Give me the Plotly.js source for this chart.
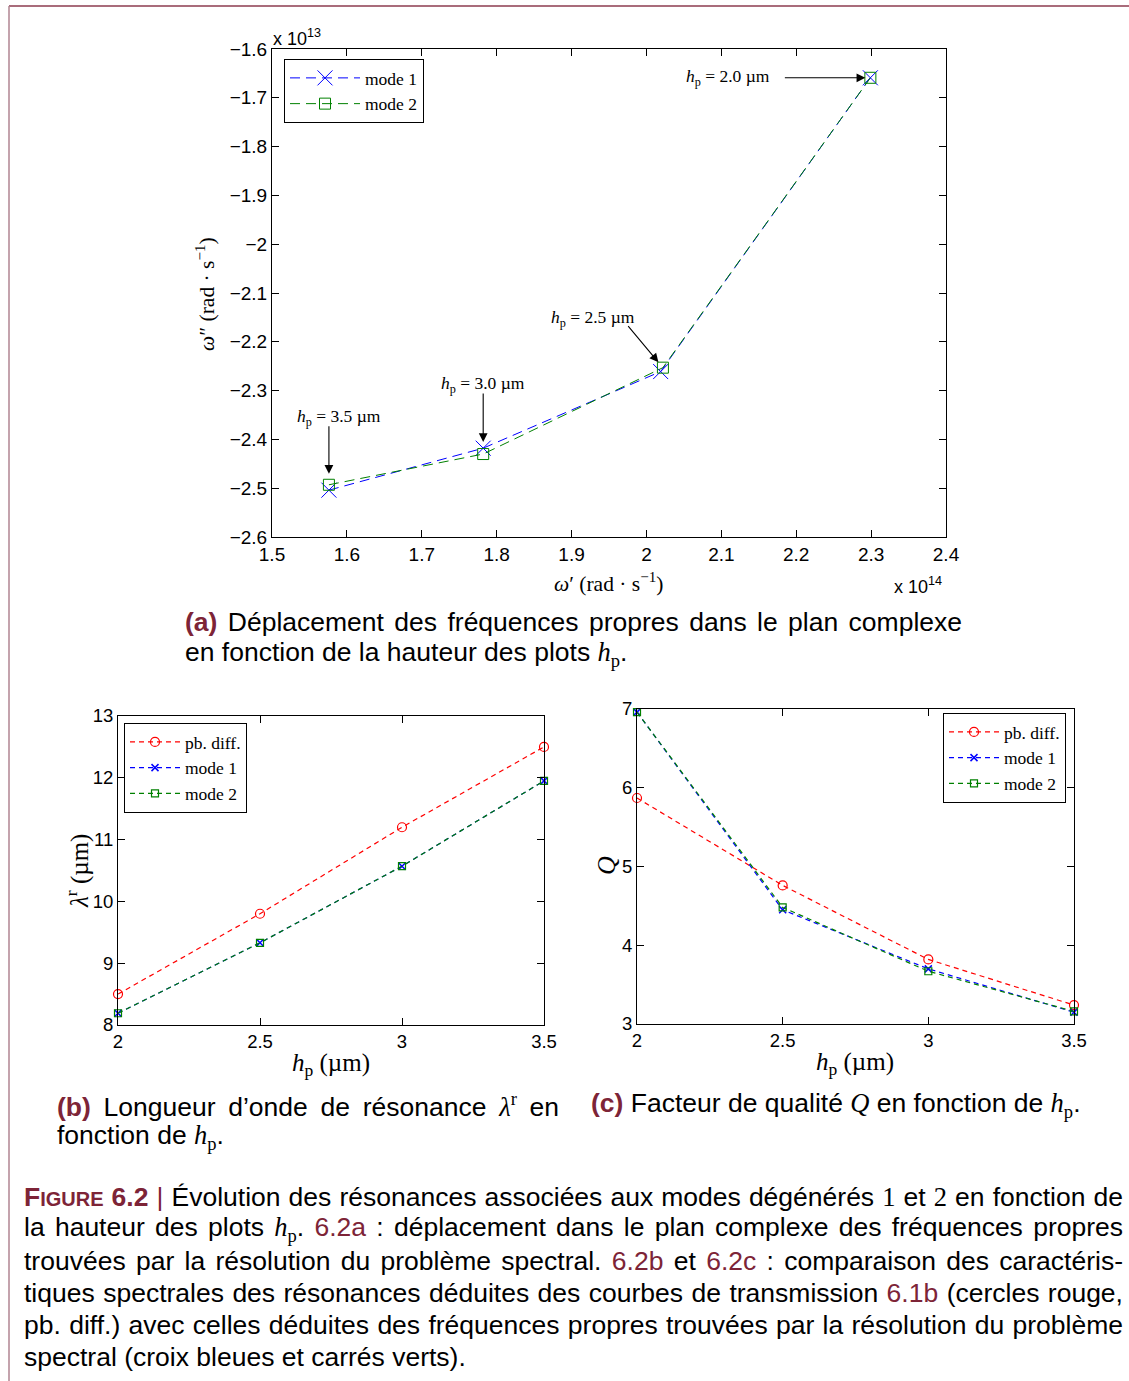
<!DOCTYPE html>
<html><head><meta charset="utf-8">
<script src="https://cdn.plot.ly/plotly-3.0.1.min.js"></script>
<style>html,body{margin:0;padding:0;background:#fff}#chart{width:1129px;height:1381px}</style>
</head><body><div id="chart"></div>
<script>
const W = 1129, H = 1381;
const SANS = 'Liberation Sans, Arial, sans-serif';
const SERIF = 'Liberation Serif, Times New Roman, serif';
const MAROON = '#7d2437';

// ---------- (a) complex eigenfrequencies ----------
const hpLabelsA = ['3.5', '3.0', '2.5', '2.0'];          // h_p (µm) of each point
const omegaReMode1 = [1.576, 1.782, 2.019, 2.299];        // ω'  (×1e14 rad/s)
const omegaImMode1 = [-2.504, -2.418, -2.261, -1.659];    // ω'' (×1e13 rad/s)
const omegaReMode2 = [1.576, 1.782, 2.022, 2.299];
const omegaImMode2 = [-2.493, -2.430, -2.253, -1.659];
const xTickValsA = [1.5, 1.6, 1.7, 1.8, 1.9, 2.0, 2.1, 2.2, 2.3, 2.4];
const xTickTextA = ['1.5', '1.6', '1.7', '1.8', '1.9', '2', '2.1', '2.2', '2.3', '2.4'];
const yTickValsA = [-1.6, -1.7, -1.8, -1.9, -2.0, -2.1, -2.2, -2.3, -2.4, -2.5, -2.6];
const yTickTextA = ['\u22121.6', '\u22121.7', '\u22121.8', '\u22121.9', '\u22122', '\u22122.1', '\u22122.2', '\u22122.3', '\u22122.4', '\u22122.5', '\u22122.6'];

// ---------- (b) resonance wavelength & (c) quality factor ----------
const hp = [2, 2.5, 3, 3.5];                              // h_p (µm)
const lambdaPbDiff = [8.50, 9.80, 11.20, 12.50];          // λr (µm)
const lambdaMode1 = [8.19, 9.33, 10.57, 11.95];
const lambdaMode2 = [8.19, 9.33, 10.57, 11.95];
const qPbDiff = [5.87, 4.76, 3.82, 3.24];
const qMode1 = [6.96, 4.45, 3.70, 3.15];
const qMode2 = [6.96, 4.48, 3.67, 3.16];
const hpTickVals = [2, 2.5, 3, 3.5];
const hpTickText = ['2', '2.5', '3', '3.5'];
const lambdaTickVals = [8, 9, 10, 11, 12, 13];
const lambdaTickText = ['8', '9', '10', '11', '12', '13'];
const qTickVals = [3, 4, 5, 6, 7];
const qTickText = ['3', '4', '5', '6', '7'];

const seriesNames = ['pb. diff.', 'mode 1', 'mode 2'];

const px = x => x / W;
const py = y => 1 - y / H;

const BLUE = '#0000ff', GREEN = '#008000', RED = '#ff0000';

const data = [
  {x: omegaReMode1, y: omegaImMode1, name: seriesNames[1], type: 'scatter', mode: 'lines+markers',
   xaxis: 'x', yaxis: 'y', legend: 'legend', cliponaxis: false,
   line: {color: BLUE, width: 1, dash: '10px,6px'},
   marker: {symbol: 'x-thin-open', size: 15, color: BLUE, line: {color: BLUE, width: 1}}},
  {x: omegaReMode2, y: omegaImMode2, name: seriesNames[2], type: 'scatter', mode: 'lines+markers',
   xaxis: 'x', yaxis: 'y', legend: 'legend', cliponaxis: false,
   line: {color: GREEN, width: 1, dash: '10px,6px'},
   marker: {symbol: 'square-open', size: 11, color: GREEN, line: {color: GREEN, width: 1}}},

  {x: hp, y: lambdaPbDiff, name: seriesNames[0], type: 'scatter', mode: 'lines+markers',
   xaxis: 'x2', yaxis: 'y2', legend: 'legend2', cliponaxis: false,
   line: {color: RED, width: 1.2, dash: '5px,4px'},
   marker: {symbol: 'circle-open', size: 9, color: RED, line: {color: RED, width: 1.2}}},
  {x: hp, y: lambdaMode1, name: seriesNames[1], type: 'scatter', mode: 'lines+markers',
   xaxis: 'x2', yaxis: 'y2', legend: 'legend2', cliponaxis: false,
   line: {color: BLUE, width: 1.2, dash: '5px,4px'},
   marker: {symbol: 'x-thin-open', size: 7, color: BLUE, line: {color: BLUE, width: 1.5}}},
  {x: hp, y: lambdaMode2, name: seriesNames[2], type: 'scatter', mode: 'lines+markers',
   xaxis: 'x2', yaxis: 'y2', legend: 'legend2', cliponaxis: false,
   line: {color: GREEN, width: 1.2, dash: '5px,4px'},
   marker: {symbol: 'square-open', size: 7, color: GREEN, line: {color: GREEN, width: 1.2}}},

  {x: hp, y: qPbDiff, name: seriesNames[0], type: 'scatter', mode: 'lines+markers',
   xaxis: 'x3', yaxis: 'y3', legend: 'legend3', cliponaxis: false,
   line: {color: RED, width: 1.2, dash: '5px,4px'},
   marker: {symbol: 'circle-open', size: 9, color: RED, line: {color: RED, width: 1.2}}},
  {x: hp, y: qMode1, name: seriesNames[1], type: 'scatter', mode: 'lines+markers',
   xaxis: 'x3', yaxis: 'y3', legend: 'legend3', cliponaxis: false,
   line: {color: BLUE, width: 1.2, dash: '5px,4px'},
   marker: {symbol: 'x-thin-open', size: 7, color: BLUE, line: {color: BLUE, width: 1.5}}},
  {x: hp, y: qMode2, name: seriesNames[2], type: 'scatter', mode: 'lines+markers',
   xaxis: 'x3', yaxis: 'y3', legend: 'legend3', cliponaxis: false,
   line: {color: GREEN, width: 1.2, dash: '5px,4px'},
   marker: {symbol: 'square-open', size: 7, color: GREEN, line: {color: GREEN, width: 1.2}}}
];

function axis(domain, range, vals, text, fs, anchor) {
  return {
    domain: domain, range: range, autorange: false, anchor: anchor,
    tickmode: 'array', tickvals: vals, ticktext: text,
    showline: true, linecolor: '#000', linewidth: 1, mirror: 'ticks', ticks: 'inside', ticklen: 7,
    tickwidth: 1, tickcolor: '#000', showgrid: false, zeroline: false,
    tickfont: {family: SANS, size: fs, color: '#000'}
  };
}

const annotations = [];
function note(x, y, text, opts) {
  annotations.push(Object.assign({xref: 'paper', yref: 'paper', x: px(x), y: py(y), text: text,
    xanchor: 'center', yanchor: 'middle',
    showarrow: false, font: {family: SANS, size: 18, color: '#000'}}, opts || {}));
  return annotations.length - 1;
}
const hpSym = '<span style="font-family:Liberation Serif"><i>h</i><sub>p</sub></span>';

// (a) axis decorations
note(271, 38, 'x 10<sup>13</sup>', {xanchor: 'left'});
note(892, 585, 'x 10<sup>14</sup>', {xanchor: 'left'});
note(608, 582, '<i>ω</i>′ (rad · s<sup>−1</sup>)', {font: {family: SERIF, size: 21.5, color: '#000'}});
note(205, 294, '<i>ω</i>″ (rad · s<sup>−1</sup>)', {textangle: -90, font: {family: SERIF, size: 21.5, color: '#000'}});

// (a) h_p labels
const hpLabelPos = [[339, 417], [483, 384], [593, 318], [728, 77]];
hpLabelsA.forEach((lab, i) => {
  note(hpLabelPos[i][0], hpLabelPos[i][1], '<i>h</i><sub>p</sub> = ' + lab + ' µm',
       {font: {family: SERIF, size: 17.5, color: '#000'}});
});
// (a) arrows pointing to the mode-2 points
const arrowSpec = [{ax: 0, ay: -60, s: 11}, {ax: 0, ay: -62, s: 12}, {ax: -36, ay: -43, s: 7}, {ax: -87, ay: 0, s: 5}];
arrowSpec.forEach((a, i) => {
  annotations.push({xref: 'x', yref: 'y', x: omegaReMode2[i], y: omegaImMode2[i], text: '',
    showarrow: true, ax: a.ax, ay: a.ay, standoff: a.s, arrowhead: 2, arrowsize: 1.6,
    arrowwidth: 1.1, arrowcolor: '#000'});
});

// (b), (c) axis titles
note(331, 1064, '<i>h</i><sub>p</sub> (µm)', {font: {family: SERIF, size: 25, color: '#000'}});
note(77, 871, '<i>λ</i><sup>r</sup> (µm)', {textangle: -90, font: {family: SERIF, size: 25, color: '#000'}});
note(855, 1063, '<i>h</i><sub>p</sub> (µm)', {font: {family: SERIF, size: 25, color: '#000'}});
note(606, 866, '<i>Q</i>', {textangle: -90, font: {family: SERIF, size: 26, color: '#000'}});

// Captions
const CAP = {family: SANS, size: 26.5, color: '#000'};
const mar = s => '<span style="color:' + MAROON + '">' + s + '</span>';
const justify = [];
function capLine(x, y, text, targetRight) {
  const i = note(x, y, text, {xanchor: 'left', yanchor: 'middle', align: 'left', font: CAP});
  if (targetRight) justify.push({idx: i, width: targetRight - x});
}
capLine(183, 622, mar('<b>(a)</b>') + ' Déplacement des fréquences propres dans le plan complexe', 960);
capLine(183, 654, 'en fonction de la hauteur des plots ' + hpSym + '.');
capLine(55, 1105, mar('<b>(b)</b>') + ' Longueur d’onde de résonance <span style="font-family:Liberation Serif"><i>λ</i><sup>r</sup></span> en', 557);
capLine(55, 1137, 'fonction de ' + hpSym + '.');
capLine(589, 1105, mar('<b>(c)</b>') + ' Facteur de qualité <span style="font-family:Liberation Serif"><i>Q</i></span> en fonction de ' + hpSym + '.');

const num = s => '<span style="font-family:Liberation Serif">' + s + '</span>';
capLine(22, 1197, mar('<b>F<span style="font-size:20px">IGURE</span> 6.2</b> |') + ' Évolution des résonances associées aux modes dégénérés ' + num('1') + ' et ' + num('2') + ' en fonction de', 1121);
capLine(22, 1229, 'la hauteur des plots ' + hpSym + '. ' + mar('6.2a') + ' : déplacement dans le plan complexe des fréquences propres', 1121);
capLine(22, 1261, 'trouvées par la résolution du problème spectral. ' + mar('6.2b') + ' et ' + mar('6.2c') + ' : comparaison des caractéris-', 1121);
capLine(22, 1293, 'tiques spectrales des résonances déduites des courbes de transmission ' + mar('6.1b') + ' (cercles rouge,', 1121);
capLine(22, 1325, 'pb. diff.) avec celles déduites des fréquences propres trouvées par la résolution du problème', 1121);
capLine(22, 1357, 'spectral (croix bleues et carrés verts).');

const legendBase = {bordercolor: '#000', borderwidth: 1, bgcolor: '#fff', xanchor: 'left', yanchor: 'top',
  font: {family: SERIF, size: 17.5, color: '#000'}, tracegroupgap: 0};

const layout = {
  width: W, height: H, margin: {l: 0, r: 0, t: 0, b: 0}, paper_bgcolor: '#fff', plot_bgcolor: '#fff',
  showlegend: true,
  xaxis: axis([px(272), px(946)], [1.5, 2.4], xTickValsA, xTickTextA, 19, 'y'),
  yaxis: axis([py(537), py(49)], [-2.6, -1.6], yTickValsA, yTickTextA, 19, 'x'),
  xaxis2: axis([px(118), px(544)], [2, 3.5], hpTickVals, hpTickText, 18.5, 'y2'),
  yaxis2: axis([py(1025), py(716)], [8, 13], lambdaTickVals, lambdaTickText, 18.5, 'x2'),
  xaxis3: axis([px(637), px(1074)], [2, 3.5], hpTickVals, hpTickText, 18.5, 'y3'),
  yaxis3: axis([py(1024), py(709)], [3, 7], qTickVals, qTickText, 18.5, 'x3'),
  legend: Object.assign({}, legendBase, {x: px(284), y: py(59), itemwidth: 70}),
  legend2: Object.assign({}, legendBase, {x: px(124), y: py(723), itemwidth: 50}),
  legend3: Object.assign({}, legendBase, {x: px(1066), y: py(713), xanchor: 'right', itemwidth: 50}),
  annotations: annotations,
  shapes: [
    {type: 'line', xref: 'paper', yref: 'paper', x0: px(9), x1: 1, y0: py(6), y1: py(6), line: {color: '#8c3b4f', width: 1.5}},
    {type: 'line', xref: 'paper', yref: 'paper', x0: px(9), x1: px(9), y0: py(6), y1: 0, line: {color: '#b08592', width: 1.5}}
  ]
};

Plotly.newPlot('chart', data, layout, {staticPlot: true}).then(gd => {
  justify.forEach(j => {
    const g = gd.querySelector('.annotation[data-index="' + j.idx + '"]');
    if (!g) return;
    const t = g.querySelector('text.annotation-text');
    if (!t) return;
    const w = t.getBBox().width;
    const n = (t.textContent.match(/[ \u00a0]/g) || []).length;
    if (n > 0) t.style.wordSpacing = ((j.width - w) / n) + 'px';
  });
});
</script>
</body></html>
